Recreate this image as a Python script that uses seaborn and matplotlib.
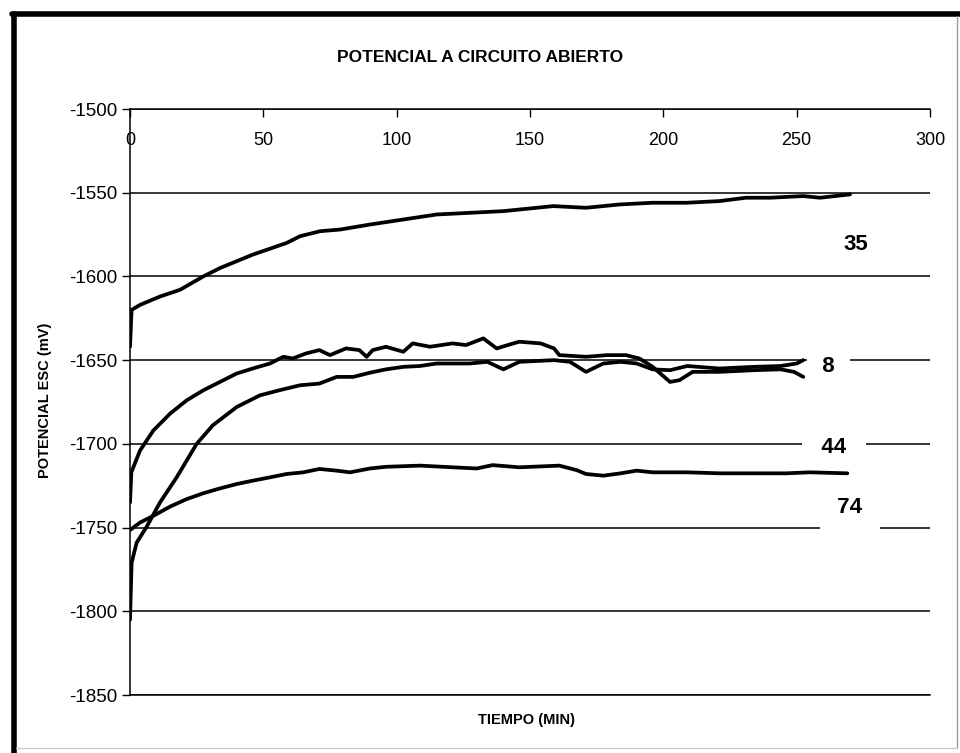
import matplotlib
matplotlib.use("Agg")
import matplotlib.pyplot as plt
from matplotlib.lines import Line2D
import numpy as np
import pandas as pd
import seaborn as sns

# Open-circuit potential (mV vs. SCE) against time (min) for four samples
t_35 = [0, 0.6, 3.75, 11.25, 18.75, 27.5, 33.75, 46, 58.75, 63.75, 71.25, 78.75, 90,
        102.5, 115, 127.5, 140, 152.5, 158.75, 171, 183.75, 196, 208.75, 221, 231,
        240, 252.5, 258.75, 270]
v_35 = [-1642, -1620, -1617, -1612, -1608, -1600, -1595, -1587, -1580, -1576, -1573,
        -1572, -1569, -1566, -1563, -1562, -1561, -1559, -1558, -1559, -1557, -1556,
        -1556, -1555, -1553, -1553, -1552, -1553, -1551]

t_8 = [0, 0.5, 3.75, 8.75, 15, 21.25, 27.5, 33.75, 40, 46, 52.5, 57.5, 61, 66, 71, 75,
       81, 86, 88.75, 91, 96, 102.5, 106, 112.5, 121, 126, 132.5, 137.5, 143.75, 146,
       154, 159, 161, 171, 179, 186, 191, 196, 202.5, 206, 211, 221, 234, 244, 249,
       252.5]
v_8 = [-1735, -1717, -1704, -1692, -1682, -1674, -1668, -1663, -1658, -1655, -1652,
       -1648, -1649, -1646, -1644, -1647, -1643, -1644, -1648, -1644, -1642, -1645,
       -1640, -1642, -1640, -1641, -1637, -1643, -1640, -1639, -1640, -1643, -1647,
       -1648, -1647, -1647, -1649, -1654, -1663, -1662, -1657, -1657, -1656, -1655.5,
       -1657, -1660]

t_44 = [0, 0.6, 2.5, 6.25, 11.25, 17.5, 25, 31, 40, 48.75, 56, 63.75, 71, 77.5, 83.75,
        90, 96, 102.5, 108.75, 115, 121, 127.5, 134, 140, 146, 159, 165, 171, 177.5,
        184, 190, 196, 202.5, 209, 221, 234, 244, 250, 252.5]
v_44 = [-1805, -1771, -1759, -1749.5, -1735, -1720, -1700, -1689, -1678, -1671, -1668,
        -1665, -1664, -1660, -1660, -1657.5, -1655.5, -1654, -1653.5, -1652, -1652,
        -1652, -1651, -1655.5, -1651, -1650, -1651, -1657, -1652, -1651, -1652,
        -1655.5, -1656, -1653.5, -1655, -1654, -1653.5, -1652, -1650]

t_74 = [0, 3.75, 8.75, 15, 21.25, 27.5, 33.75, 40, 46, 52.5, 58.75, 65, 71, 77.5, 82.5,
        90, 96, 108.75, 121, 130, 136, 146, 161, 167.5, 171, 177.5, 184, 190, 196, 209,
        221, 234, 246, 255, 269]
v_74 = [-1751.5, -1747, -1743, -1737.5, -1733, -1729.5, -1726.6, -1724, -1722, -1720,
        -1718, -1717, -1715, -1716, -1717, -1714.7, -1713.7, -1713, -1714, -1714.7,
        -1712.7, -1714, -1713, -1715.7, -1718, -1719, -1717.6, -1716, -1717, -1717,
        -1717.6, -1717.6, -1717.6, -1717, -1717.6]

series_names = ["35", "8", "44", "74"]
label_x = [272, 262, 264, 270]
label_y = [-1581, -1653.5, -1702, -1738]

x_ticks = [0, 50, 100, 150, 200, 250, 300]
y_ticks = [-1500, -1550, -1600, -1650, -1700, -1750, -1800, -1850]

frames = []
for name, t, v in zip(series_names, [t_35, t_8, t_44, t_74], [v_35, v_8, v_44, v_74]):
    frames.append(pd.DataFrame({"tiempo": t, "potencial": v, "serie": name}))
df = pd.concat(frames, ignore_index=True)

sns.set_style("white")
plt.rcParams["font.family"] = ["Liberation Sans", "DejaVu Sans"]
plt.rcParams["axes.unicode_minus"] = False
plt.rcParams["text.color"] = "black"

fig = plt.figure(figsize=(9.6, 7.53), dpi=100)
ax = fig.add_axes([130 / 960, 1 - 695 / 753, 800 / 960, 586 / 753])

sns.lineplot(data=df, x="tiempo", y="potencial", units="serie", estimator=None,
             sort=False, color="black", linewidth=2.7, ax=ax, zorder=3)

ax.set_xlim(0, 300)
ax.set_ylim(-1850, -1500)
ax.set_xticks(x_ticks)
ax.set_yticks(y_ticks)
ax.set_xlabel("")
ax.set_ylabel("")

# horizontal gridlines
ax.set_axisbelow(True)
ax.yaxis.grid(True, color="black", linewidth=1.1)
ax.xaxis.grid(False)

# time axis sits on the -1500 line with labels underneath
ax.xaxis.tick_top()
ax.tick_params(axis="x", direction="in", length=6, width=1, pad=-29,
               labelsize=13, top=True, bottom=False, labeltop=True,
               labelbottom=False, colors="black")
ax.tick_params(axis="y", direction="out", length=6, width=1, pad=3,
               labelsize=13.5, left=True, colors="black")

for side in ["left", "top", "bottom"]:
    ax.spines[side].set_visible(True)
    ax.spines[side].set_color("black")
    ax.spines[side].set_linewidth(1.1)
ax.spines["right"].set_visible(False)

# series labels with white backing that interrupts the gridlines
label_text = ["35", "  8  ", "   44   ", " 74 "]
pads = [0.2, 0.15, 0.05, 0.5]
for txt, lx, ly, p in zip(label_text, label_x, label_y, pads):
    ax.text(lx, ly, txt, fontsize=16, fontweight="bold", ha="center", va="center",
            zorder=5, bbox=dict(boxstyle=f"square,pad={p}", facecolor="white",
                                edgecolor="none"))

fig.text(0.5, 1 - 57 / 753, "POTENCIAL A CIRCUITO ABIERTO", fontsize=12.5,
         fontweight="bold", ha="center", va="center")
fig.text(527 / 960, 1 - 720 / 753, "TIEMPO (MIN)", fontsize=10.5, fontweight="bold",
         ha="center", va="center")
fig.text(45 / 960, 1 - 400 / 753, "POTENCIAL ESC (mV)", fontsize=10.5,
         fontweight="bold", ha="center", va="center", rotation=90)

# outer frame
fig.add_artist(Line2D([14 / 960, 14 / 960], [0, 1 - 14 / 753],
                      transform=fig.transFigure, color="black", linewidth=4))
fig.add_artist(Line2D([12 / 960, 1], [1 - 14 / 753, 1 - 14 / 753],
                      transform=fig.transFigure, color="black", linewidth=4))
fig.add_artist(Line2D([957 / 960, 957 / 960], [1 - 748 / 753, 1 - 16 / 753],
                      transform=fig.transFigure, color="#9a9a9a", linewidth=1))
fig.add_artist(Line2D([16 / 960, 957 / 960], [1 - 748 / 753, 1 - 748 / 753],
                      transform=fig.transFigure, color="#c8c8c8", linewidth=1))

fig.savefig("out.png", dpi=100, facecolor="white")
